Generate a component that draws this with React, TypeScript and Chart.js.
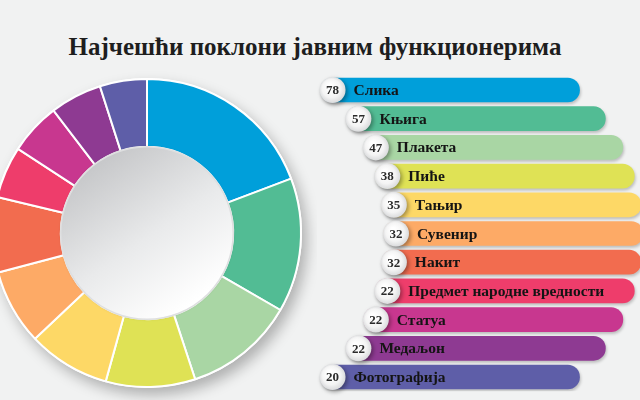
import React, { useEffect, useRef } from "react";
import { Chart, registerables } from "chart.js";
Chart.register(...registerables);

const title = "Најчешћи поклони јавним функционерима";
const categories = [
  "Слика",
  "Књига",
  "Плакета",
  "Пиће",
  "Тањир",
  "Сувенир",
  "Накит",
  "Предмет народне вредности",
  "Статуа",
  "Медаљон",
  "Фотографија",
];
const counts = [78, 57, 47, 38, 35, 32, 32, 22, 22, 22, 20];
const colors = [
  "#009fda",
  "#52bc94",
  "#a9d6a4",
  "#dfe255",
  "#fdd866",
  "#fdaa66",
  "#f26c4f",
  "#ee3d6b",
  "#c8378f",
  "#8e3a92",
  "#5e5ea8",
];

// layout (pixels)
const BG = "#f1f2f2";
const DONUT_LEFT = -23;
const DONUT_TOP = 63;
const DONUT_SIZE = 340;
const BAR_LEFT = 300;
const BAR_W = 340;
const ROW_H = 28.7;
const ARC_R = 194;
const ARC_CX = 202; // page x of arc centre for list badges
const BAR_LEN = 247;
const BADGE_BACK = 12;

function badgeX(i: number, n: number) {
  const dy = (i - (n - 1) / 2) * ROW_H;
  return ARC_CX + Math.sqrt(ARC_R * ARC_R - dy * dy) - BAR_LEFT;
}

export default function App() {
  const donutRef = useRef<HTMLCanvasElement>(null);
  const barRef = useRef<HTMLCanvasElement>(null);

  useEffect(() => {
    const shadowPlugin = {
      id: "donutShadow",
      beforeDatasetsDraw(chart: any) {
        const meta = chart.getDatasetMeta(0);
        const arc = meta.data[0];
        if (!arc) return;
        const { x, y, outerRadius } = arc.getProps(["x", "y", "outerRadius"], true);
        const ctx = chart.ctx;
        ctx.save();
        ctx.shadowColor = "rgba(0,0,0,0.28)";
        ctx.shadowBlur = 14;
        ctx.shadowOffsetX = 5;
        ctx.shadowOffsetY = 7;
        ctx.beginPath();
        ctx.arc(x, y, outerRadius + 1, 0, Math.PI * 2);
        ctx.fillStyle = "#ffffff";
        ctx.fill();
        ctx.restore();
      },
      afterDatasetsDraw(chart: any) {
        const meta = chart.getDatasetMeta(0);
        const arc = meta.data[0];
        if (!arc) return;
        const { x, y, innerRadius } = arc.getProps(["x", "y", "innerRadius"], true);
        const ctx = chart.ctx;
        ctx.save();
        const g = ctx.createLinearGradient(x - 55, y - 75, x + 45, y + 70);
        g.addColorStop(0, "#c4c5c7");
        g.addColorStop(0.55, "#e9eaeb");
        g.addColorStop(1, "#ffffff");
        ctx.shadowColor = "rgba(0,0,0,0.15)";
        ctx.shadowBlur = 3;
        ctx.beginPath();
        ctx.arc(x, y, innerRadius, 0, Math.PI * 2);
        ctx.fillStyle = g;
        ctx.fill();
        ctx.shadowColor = "transparent";
        ctx.lineWidth = 1.5;
        ctx.strokeStyle = "#dedfe0";
        ctx.stroke();
        ctx.restore();
      },
    };

    const donut = new Chart(donutRef.current!, {
      type: "doughnut",
      data: {
        labels: categories,
        datasets: [
          {
            data: counts,
            backgroundColor: colors,
            borderColor: "#ffffff",
            borderWidth: 2,
          },
        ],
      },
      options: {
        responsive: false,
        animation: false,
        radius: 154,
        cutout: "56%",
        layout: { padding: 0 },
        plugins: { legend: { display: false }, tooltip: { enabled: false } },
      },
      plugins: [shadowPlugin],
    });

    const n = categories.length;
    const ranges = categories.map((_, i) => {
      const bx = badgeX(i, n);
      return [bx - BADGE_BACK, bx + BAR_LEN];
    });

    const listPlugin = {
      id: "listDeco",
      beforeDatasetsDraw(chart: any) {
        const ctx = chart.ctx;
        ctx.save();
        ctx.shadowColor = "rgba(0,0,0,0.22)";
        ctx.shadowBlur = 3;
        ctx.shadowOffsetX = 1;
        ctx.shadowOffsetY = 2;
      },
      afterDatasetsDraw(chart: any) {
        const ctx = chart.ctx;
        ctx.restore();
        const meta = chart.getDatasetMeta(0);
        meta.data.forEach((el: any, i: number) => {
          const { x, y, base } = el.getProps(["x", "y", "base"], true);
          const start = Math.min(x, base);
          const cx = start + BADGE_BACK;
          ctx.save();
          ctx.shadowColor = "rgba(0,0,0,0.35)";
          ctx.shadowBlur = 4;
          ctx.shadowOffsetX = 2;
          ctx.shadowOffsetY = 2;
          const g = ctx.createRadialGradient(cx - 3, y - 4, 2, cx, y, 14);
          g.addColorStop(0, "#ffffff");
          g.addColorStop(0.6, "#f4f4f4");
          g.addColorStop(1, "#d5d6d8");
          ctx.beginPath();
          ctx.arc(cx, y, 13, 0, Math.PI * 2);
          ctx.fillStyle = g;
          ctx.fill();
          ctx.restore();

          ctx.save();
          ctx.fillStyle = "#2b2b2b";
          ctx.font = 'bold 13px "Liberation Serif"';
          ctx.textAlign = "center";
          ctx.textBaseline = "middle";
          ctx.fillText(String(counts[i]), cx, y + 1);
          ctx.fillStyle = "#141414";
          ctx.font = 'bold 15.5px "Liberation Serif"';
          ctx.textAlign = "left";
          ctx.fillText(categories[i], cx + 21, y + 1);
          ctx.restore();
        });
      },
    };

    const bars = new Chart(barRef.current!, {
      type: "bar",
      data: {
        labels: categories,
        datasets: [
          {
            data: ranges as any,
            backgroundColor: colors,
            borderWidth: 0,
            borderRadius: 12,
            borderSkipped: false,
            barThickness: 24,
          },
        ],
      },
      options: {
        indexAxis: "y",
        responsive: false,
        animation: false,
        layout: { padding: { top: 75.65, bottom: 8.65, left: 0, right: 0 } },
        scales: {
          x: { type: "linear", min: 0, max: BAR_W, display: false },
          y: { type: "category", display: false, offset: true },
        },
        plugins: { legend: { display: false }, tooltip: { enabled: false } },
      },
      plugins: [listPlugin],
    });

    return () => {
      donut.destroy();
      bars.destroy();
    };
  }, []);

  return (
    <div
      style={{
        position: "fixed",
        left: 0,
        top: 0,
        width: 640,
        height: 400,
        background: BG,
        overflow: "hidden",
      }}
    >
      <div
        style={{
          position: "absolute",
          left: 0,
          top: 34,
          width: 630,
          textAlign: "center",
          fontFamily: '"Liberation Serif", serif',
          fontWeight: "bold",
          fontSize: 25,
          lineHeight: "25px",
          color: "#1e1e1e",
          whiteSpace: "nowrap",
        }}
      >
        {title}
      </div>
      <canvas
        ref={donutRef}
        width={DONUT_SIZE}
        height={DONUT_SIZE}
        style={{ position: "absolute", left: DONUT_LEFT, top: DONUT_TOP, width: DONUT_SIZE, height: DONUT_SIZE }}
      />
      <canvas
        ref={barRef}
        width={BAR_W}
        height={400}
        style={{ position: "absolute", left: BAR_LEFT, top: 0, width: BAR_W, height: 400 }}
      />
    </div>
  );
}
